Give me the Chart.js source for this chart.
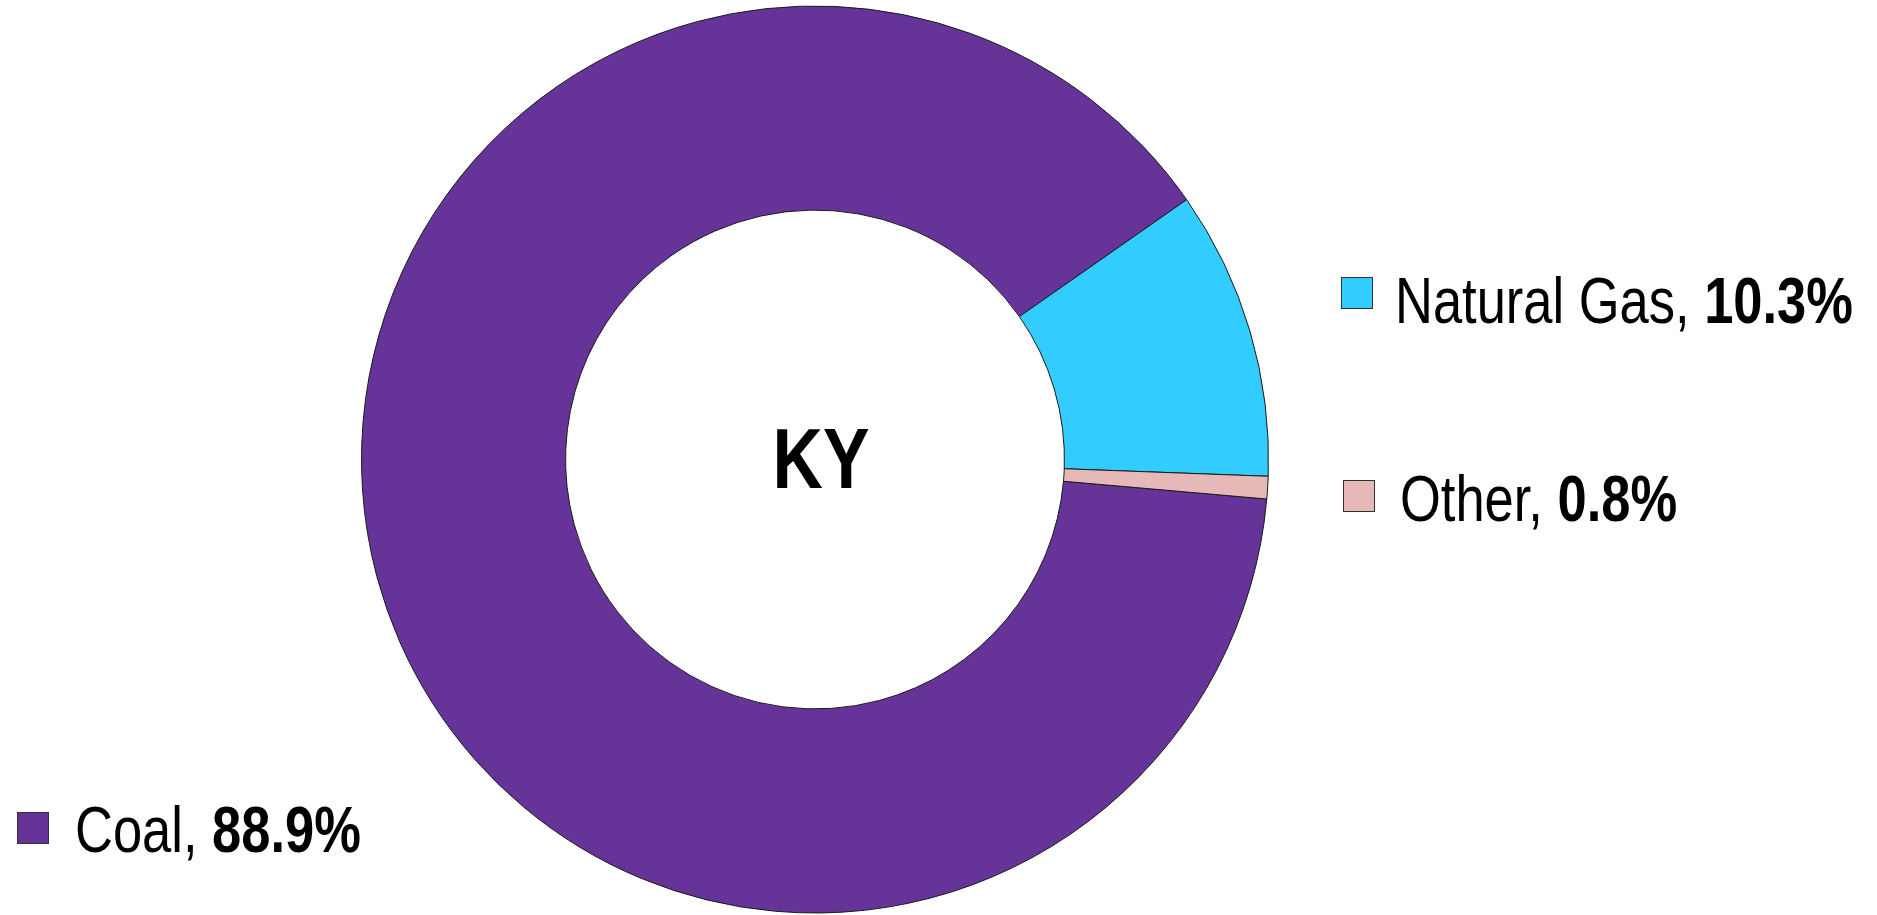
<!DOCTYPE html>
<html lang="en">
<head>
<meta charset="UTF-8">
<title>KY generation mix</title>
<script src="https://cdn.jsdelivr.net/npm/chart.js"></script>
<style>
  html, body { margin: 0; padding: 0; background: #fff; }
  #wrap { position: relative; width: 1877px; height: 915px; }
</style>
</head>
<body>
<div id="wrap"><canvas id="chart" width="1877" height="915"></canvas></div>
<script>
// data
const categories = ['Coal', 'Natural Gas', 'Other'];
const shares = [88.9, 10.3, 0.8];
const colors = ['#663399', '#33CCFF', '#E6B9B8'];
const centerLabel = 'KY';

// no narrow face installed, so squeeze Liberation Sans horizontally
const FONT = "'Liberation Sans', Arial, sans-serif";
const SQUEEZE = 0.82;

// where each legend label sits (square left/top, text x, text baseline)
const labelSpots = [
  { x: 17, y: 812, tx: 75, ty: 852 },
  { x: 1341, y: 277, tx: 1395, ty: 323 },
  { x: 1343, y: 480, tx: 1400, ty: 521 }
];

function squeezedText(ctx, txt, x, y) {
  ctx.save();
  ctx.translate(x, y);
  ctx.scale(SQUEEZE, 1);
  ctx.fillText(txt, 0, 0);
  ctx.restore();
  return ctx.measureText(txt).width * SQUEEZE;
}

const labelPlugin = {
  id: 'sideLabels',
  afterDraw(chart) {
    const ctx = chart.ctx;
    const meta = chart.getDatasetMeta(0);
    ctx.save();
    // centre text
    const arc = meta.data[0];
    ctx.fillStyle = '#000';
    ctx.font = 'bold 85px ' + FONT;
    ctx.textAlign = 'left';
    ctx.textBaseline = 'alphabetic';
    const kw = ctx.measureText(centerLabel).width * SQUEEZE;
    squeezedText(ctx, centerLabel, arc.x + 6 - kw / 2, arc.y + 28);

    categories.forEach((name, i) => {
      const p = labelSpots[i];
      ctx.fillStyle = colors[i];
      ctx.fillRect(p.x, p.y, 32, 32);
      ctx.strokeStyle = '#333';
      ctx.lineWidth = 1;
      ctx.strokeRect(p.x + 0.5, p.y + 0.5, 31, 31);

      ctx.fillStyle = '#000';
      ctx.font = '64px ' + FONT;
      const w = squeezedText(ctx, name + ', ', p.tx, p.ty);
      ctx.font = 'bold 64px ' + FONT;
      squeezedText(ctx, shares[i].toFixed(1) + '%', p.tx + w, p.ty);
    });
    ctx.restore();
  }
};

new Chart(document.getElementById('chart'), {
  type: 'doughnut',
  data: {
    labels: categories,
    datasets: [{
      data: shares,
      backgroundColor: colors,
      borderColor: '#1a1a1a',
      borderWidth: 1,
      borderAlign: 'center'
    }]
  },
  options: {
    responsive: false,
    animation: false,
    rotation: 95,
    cutout: '55%',
    layout: { padding: { left: 361, right: 608, top: 5, bottom: 1 } },
    plugins: {
      legend: { display: false },
      tooltip: { enabled: false }
    }
  },
  plugins: [labelPlugin]
});
</script>
</body>
</html>
